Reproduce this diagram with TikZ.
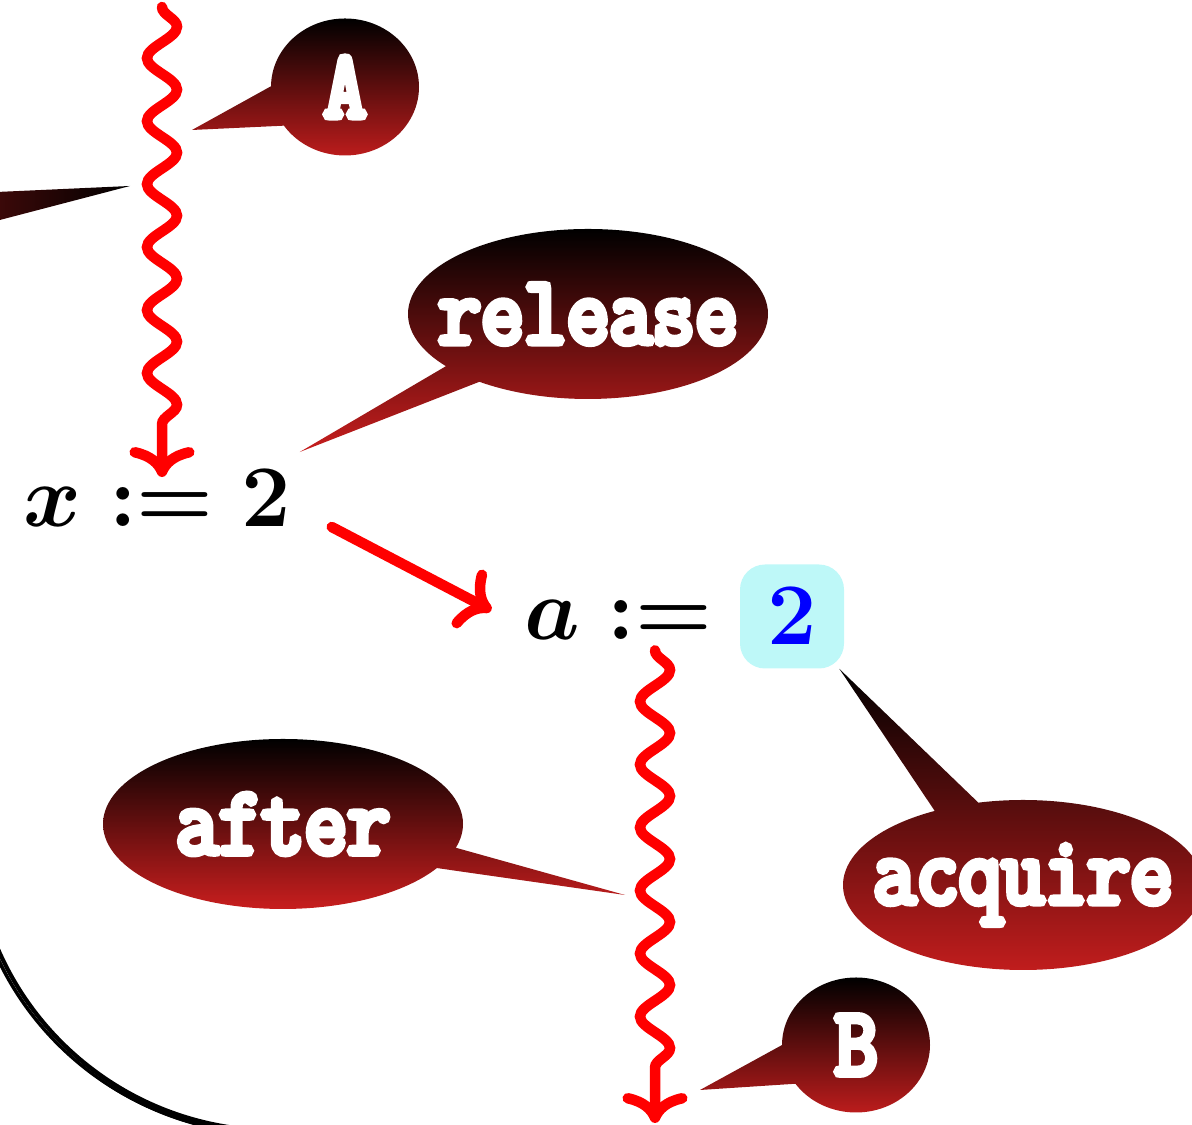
\documentclass[tikz,border=0pt]{standalone}
\usepackage{fix-cm}
\usepackage{fontspec}
\newfontfamily\calloutfont{Latin Modern Mono}[FakeBold=7, FakeStretch=0.86]
\usepackage{tikz}
\usetikzlibrary{arrows.meta, decorations.pathmorphing, shapes.callouts, calc}
\definecolor{calloutred}{RGB}{200,30,30}
\definecolor{valbg}{RGB}{190,248,248}

\begin{document}
\begin{tikzpicture}[
  redarrow/.style={draw=red, line width=0.21cm, line cap=round,
    -{Computer Modern Rightarrow[length=0.6cm, width=1.3cm]}},
  wave/.style={redarrow, decorate,
    decoration={snake, amplitude=0.3cm, segment length=1.26cm, post length=0.5cm}},
  bubble/.style={ellipse callout, top color=black, bottom color=calloutred, text=white,
    font=\calloutfont\fontsize{55}{60}\selectfont, inner xsep=-0.6cm, inner ysep=0pt,
    minimum width=7.2cm, minimum height=3.4cm},
  smallbubble/.style={bubble, inner sep=0pt, minimum width=2.96cm, minimum height=2.74cm,
    callout pointer arc=35},
  mathfont/.style={font=\fontsize{50}{55}\selectfont\boldmath}
]
  \useasboundingbox (0,0) rectangle (23.84,22.5);
  \clip (0,0) rectangle (23.84,22.5);
  % the two assignments
  \node[mathfont, inner sep=0pt, anchor=base] (xeq) at (3.15,11.96) {$x := 2$};
  \node[mathfont, inner sep=0pt, anchor=base east] (aeq) at (14.25,9.7) {$a :=$};
  \node[mathfont, text=blue, fill=valbg, rounded corners=0.5cm, minimum size=2.08cm] (val) at (15.84,10.17) {$2$};
  % red arrows
  \coordinate (wtop) at (3.24,22.36);
  \coordinate (wbot) at (13.1,0.04);
  \draw[wave] (wtop) -- ([yshift=-0.14cm]wtop |- xeq.north);
  \draw[redarrow] ([xshift=0.8cm]xeq.base east) -- ([xshift=-0.65cm,yshift=0.2cm]aeq.west);
  \draw[wave] ([yshift=-0.2cm]wbot |- aeq.south) -- (wbot);
  % callouts
  \node[smallbubble, callout absolute pointer={(3.84,19.9)}] (ca) at (6.9,20.76) {A};
  \node[bubble, callout absolute pointer={([xshift=0.16cm,yshift=0.36cm]xeq.north east)}] (crel) at (11.76,16.22) {release};
  \node[bubble, callout absolute pointer={(12.5,4.6)}] (caft) at (5.66,6.02) {after};
  \node[bubble, callout absolute pointer={([xshift=-0.1cm]val.south east)}] (cacq) at (20.46,4.8) {acquire};
  \node[smallbubble, minimum height=2.7cm, callout absolute pointer={(14.0,0.7)}] (cb) at (17.12,1.6) {B};
  % tail of a callout outside the frame
  \shade[left color=calloutred!35!black, right color=black] (-0.5,18.64) -- (2.6,18.78) -- (-0.5,17.97) -- cycle;
  % hand-drawn loop
  \foreach \cx/\r/\w in {5.5/6.04/2.2pt, 5.53/6.08/1.6pt, 5.47/6.1/1.8pt, 5.52/6.13/1.4pt}
    \draw[line width=\w] (\cx,5.93) ++(198:\r) arc[start angle=198, end angle=265, radius=\r];
\end{tikzpicture}
\end{document}
